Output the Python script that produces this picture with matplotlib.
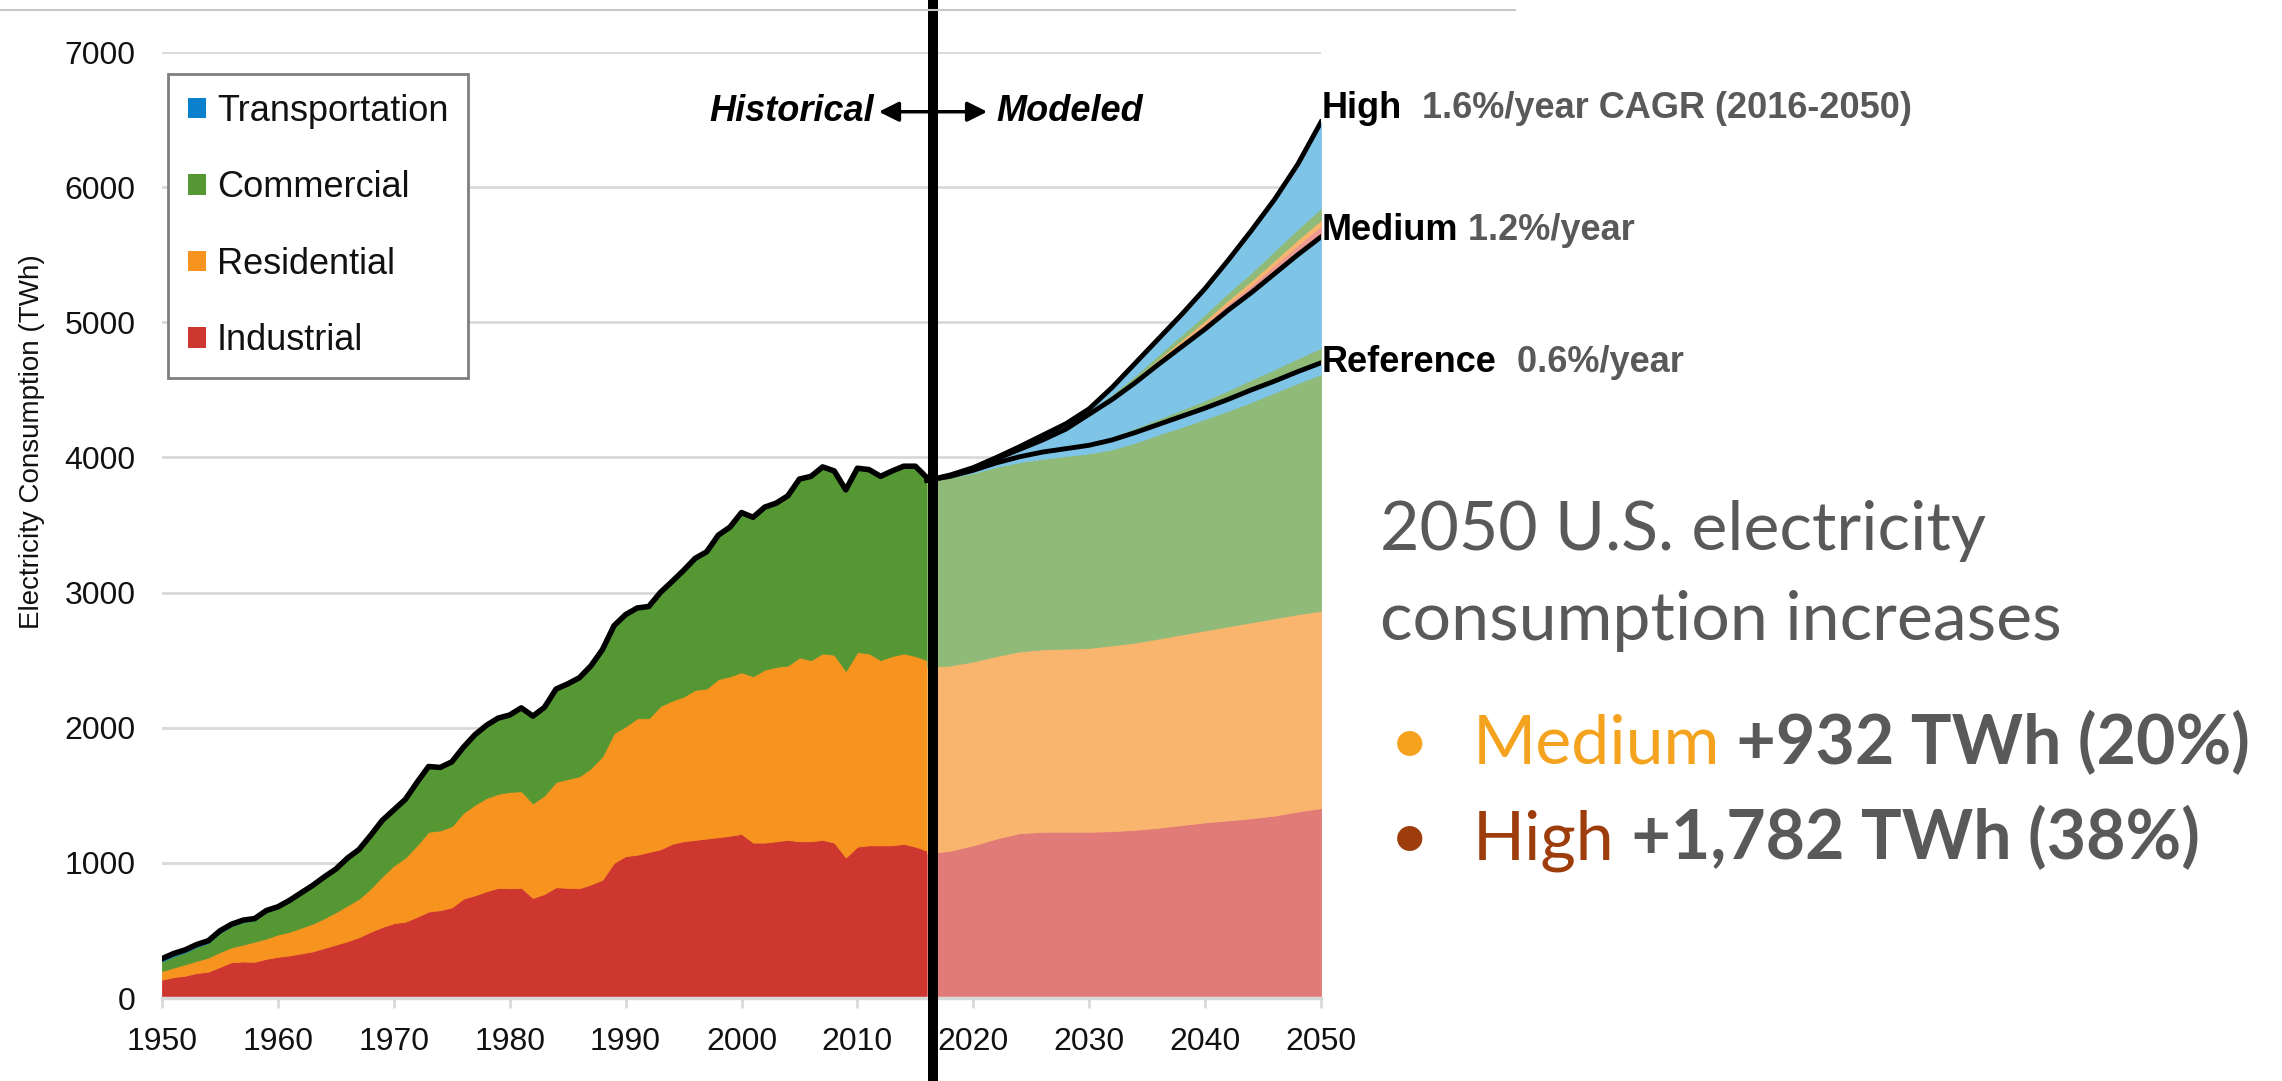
import matplotlib
matplotlib.use('Agg')
import matplotlib.pyplot as plt
import numpy as np
from matplotlib.patches import Patch

W, H = 2282, 1081

# --- historical data (TWh) ---
hist_years = list(range(1950, 2017))
hist_industrial = [135, 155, 165, 185, 195, 230, 265, 270, 268, 290,
                   305, 315, 330, 345, 370, 395, 420, 450, 490, 525,
                   553, 565, 600, 640, 650, 670, 735, 760, 790, 815,
                   812, 815, 740, 770, 820, 815, 812, 840, 875, 1000,
                   1050, 1060, 1080, 1100, 1140, 1160, 1170, 1180, 1190, 1200,
                   1215, 1150, 1150, 1160, 1170, 1160, 1160, 1170, 1150, 1040,
                   1120, 1130, 1130, 1130, 1140, 1120, 1090]
hist_residential = [65, 70, 85, 90, 105, 110, 110, 125, 150, 150,
                    165, 175, 190, 205, 220, 240, 265, 285, 320, 375,
                    427, 475, 530, 590, 590, 600, 635, 670, 690, 695,
                    713, 715, 700, 730, 780, 805, 828, 860, 915, 960,
                    960, 1010, 990, 1060, 1060, 1070, 1110, 1110, 1170, 1180,
                    1195, 1230, 1280, 1290, 1290, 1360, 1340, 1380, 1390, 1380,
                    1440, 1420, 1370, 1400, 1410, 1410, 1410]
hist_transportation = [20, 20, 19, 18, 17, 16, 15, 14, 13, 12,
                       11, 10, 10, 9, 9, 8, 8, 8, 7, 7,
                       6, 6, 6, 6, 5, 5, 5, 5, 5, 5,
                       5, 5, 5, 5, 5, 5, 5, 5, 5, 5,
                       5, 5, 5, 5, 5, 5, 5, 5, 5, 5,
                       5, 6, 6, 7, 7, 8, 8, 8, 8, 8,
                       8, 8, 7, 7, 8, 8, 8]
hist_total = [291, 329, 356, 396, 424, 497, 546, 576, 588, 647,
              675, 722, 778, 833, 896, 954, 1035, 1099, 1203, 1314,
              1392, 1470, 1595, 1713, 1706, 1747, 1855, 1948, 2018, 2071,
              2094, 2147, 2086, 2151, 2286, 2324, 2369, 2457, 2578, 2755,
              2837, 2886, 2897, 3001, 3081, 3164, 3253, 3302, 3425, 3484,
              3592, 3557, 3632, 3662, 3716, 3840, 3860, 3930, 3900, 3760,
              3920, 3910, 3860, 3900, 3935, 3935, 3850]

# --- modeled data (TWh) ---
mod_years = [2016, 2018, 2020, 2022, 2024, 2026, 2028, 2030, 2032,
             2034, 2036, 2038, 2040, 2042, 2044, 2046, 2048, 2050]
ref_industrial = [1070, 1090, 1130, 1180, 1220, 1230, 1230, 1230, 1235,
                  1245, 1260, 1280, 1300, 1315, 1330, 1350, 1380, 1405]
ref_residential = [1380, 1370, 1360, 1350, 1345, 1350, 1355, 1360, 1375,
                   1385, 1400, 1410, 1420, 1435, 1450, 1460, 1460, 1460]
ref_commercial = [1380, 1390, 1395, 1400, 1400, 1410, 1425, 1440, 1450,
                  1480, 1510, 1535, 1565, 1595, 1630, 1670, 1710, 1750]
ref_transportation = [0, 10, 20, 30, 40, 50, 55, 60, 70,
                      75, 75, 80, 80, 85, 90, 85, 85, 85]
medium_total = [3830, 3865, 3915, 3990, 4060, 4130, 4210, 4320, 4430,
                4555, 4690, 4820, 4950, 5090, 5220, 5360, 5500, 5632]
medium_res_add = [0, 0, 0, 0, 0, 1, 2, 3, 4, 5, 6, 7, 8, 9, 10, 12, 13, 15]
medium_com_add = [0, 0, 0, 2, 4, 8, 12, 16, 22, 28, 35, 42, 50, 58, 66, 75, 85, 95]
high_total = [3830, 3870, 3925, 4000, 4080, 4165, 4250, 4360, 4520,
              4700, 4880, 5060, 5250, 5460, 5680, 5910, 6170, 6482]
high_ind_add = [0, 0, 0, 0, 0, 0, 5, 10, 15, 20, 26, 32, 40, 48, 56, 64, 72, 80]
high_res_add = [0, 0, 0, 0, 0, 0, 3, 5, 8, 11, 15, 19, 23, 27, 31, 35, 40, 44]
high_com_add = [0, 0, 0, 0, 0, 0, 5, 10, 16, 22, 30, 38, 46, 54, 62, 70, 79, 88]

sectors = ['Transportation', 'Commercial', 'Residential', 'Industrial']
dark = {'Industrial': '#CD3730', 'Residential': '#F7931F',
        'Commercial': '#559733', 'Transportation': '#0B80CC'}
light = {'Industrial': '#E07B77', 'Residential': '#F9B56E',
         'Commercial': '#8FBA78', 'Transportation': '#7EC4E7'}
pink = '#EC9994'

plt.rcParams['font.family'] = ['Liberation Sans', 'DejaVu Sans']

fig = plt.figure(figsize=(W / 100, H / 100), dpi=100)
ax = fig.add_axes([162 / W, 1 - 998 / H, (1321 - 162) / W, (998 - 52) / H])

# historical stack
hi_ind = np.array(hist_industrial)
hi_res = np.array(hist_residential)
hi_tra = np.array(hist_transportation)
hi_tot = np.array(hist_total)
hi_com = hi_tot - hi_ind - hi_res - hi_tra
ax.stackplot(hist_years, hi_ind, hi_res, hi_com, hi_tra,
             colors=[dark['Industrial'], dark['Residential'], dark['Commercial'], dark['Transportation']],
             edgecolor='face', linewidth=0.6, zorder=1)
ax.plot(hist_years, hi_tot, color='black', lw=4, solid_joinstyle='round', zorder=3)

# modeled stack: reference, then medium and high additions
r_ind = np.array(ref_industrial)
r_res = np.array(ref_residential)
r_com = np.array(ref_commercial)
r_tra = np.array(ref_transportation)
ref_total = r_ind + r_res + r_com + r_tra
m_tot = np.array(medium_total)
m_res = np.array(medium_res_add)
m_com = np.array(medium_com_add)
m_tra = m_tot - ref_total - m_res - m_com
h_tot = np.array(high_total)
h_ind = np.array(high_ind_add)
h_res = np.array(high_res_add)
h_com = np.array(high_com_add)
h_tra = h_tot - m_tot - h_ind - h_res - h_com

ax.stackplot(mod_years, r_ind, r_res, r_com, r_tra, m_res, m_com, m_tra,
             h_ind, h_res, h_com, h_tra,
             colors=[light['Industrial'], light['Residential'], light['Commercial'], light['Transportation'],
                     light['Residential'], light['Commercial'], light['Transportation'],
                     pink, light['Residential'], light['Commercial'], light['Transportation']],
             edgecolor='face', linewidth=0.6, zorder=1)
for tot in (ref_total, m_tot, h_tot):
    ax.plot(mod_years, tot, color='black', lw=3.5, solid_joinstyle='round', zorder=3)

# divider between historical and modeled
ax.axvline(2016.5, ymin=-0.09, ymax=1.06, color='black', lw=7.2, clip_on=False, zorder=6)

ax.set_xlim(1950, 2050)
ax.set_ylim(0, 7000)
ax.set_xticks(range(1950, 2051, 10))
ax.set_yticks(range(0, 7001, 1000))
ax.grid(axis='y', color='#D9D9D9', lw=2)
ax.set_axisbelow(True)
for s in ['left', 'right', 'top']:
    ax.spines[s].set_visible(False)
ax.spines['bottom'].set_color('#D9D9D9')
ax.spines['bottom'].set_linewidth(2.5)
ax.tick_params(axis='x', length=7, width=2, color='#D9D9D9', labelsize=23, pad=14, labelcolor='#111111')
ax.tick_params(axis='y', length=0, labelsize=23, pad=19, labelcolor='#111111')
fig.text(32 / W, 1 - 442 / H, 'Electricity Consumption (TWh)', rotation=90,
         ha='center', va='center', fontsize=20, color='#111111')

# legend
handles = [Patch(facecolor=dark[s], edgecolor='none') for s in sectors]
leg = ax.legend(handles, sectors, loc='upper left', bbox_to_anchor=(168 / W, 1 - 74 / H),
                bbox_transform=fig.transFigure, borderaxespad=0, fontsize=26,
                handlelength=0.5, handleheight=0.5, handletextpad=0.3,
                labelspacing=1.15, borderpad=0.55, fancybox=False, framealpha=1,
                edgecolor='#7F7F7F')
leg.get_frame().set_linewidth(2)
for t in leg.get_texts():
    t.set_color('#111111')

# historical / modeled marker
ax.annotate('', xy=(2011.85, 6558), xytext=(2021.2, 6558),
            arrowprops=dict(arrowstyle='<|-|>', color='black', lw=2.5,
                            mutation_scale=30, shrinkA=0, shrinkB=0), zorder=7)
ax.text(2011.4, 6558, 'Historical', ha='right', va='center', fontsize=26,
        fontweight='bold', fontstyle='italic')
ax.text(2022.0, 6558, 'Modeled', ha='left', va='center', fontsize=26,
        fontweight='bold', fontstyle='italic')

renderer = fig.canvas.get_renderer()


def text_run(x, y, parts):
    # x, y in figure pixels (y from bottom); parts share one baseline
    for s, props in parts:
        t = fig.text(x / W, y / H, s, ha='left', va='baseline', **props)
        x = t.get_window_extent(renderer).x1


gray = '#595959'
scen = dict(fontweight='bold', fontsize=26)
text_run(1322, H - 118, [('High', dict(color='black', **scen)),
                         ('  1.6%/year CAGR (2016-2050)', dict(color=gray, **scen))])
text_run(1322, H - 240, [('Medium', dict(color='black', **scen)),
                         (' 1.2%/year', dict(color=gray, **scen))])
text_run(1322, H - 372, [('Reference', dict(color='black', **scen)),
                         ('  0.6%/year', dict(color=gray, **scen))])

# right-hand summary
big = dict(family=['Lato', 'DejaVu Sans'], fontsize=49)
text_run(1380, H - 550, [('2050 U.S. electricity', dict(color=gray, **big))])
text_run(1380, H - 640, [('consumption increases', dict(color=gray, **big))])
text_run(1390, H - 764, [('\u2022', dict(color='#F5A31F', **big))])
text_run(1473, H - 764, [('Medium', dict(color='#F5A31F', **big)),
                         (' +932 TWh (20%)', dict(color=gray, fontweight='bold', **big))])
text_run(1390, H - 859, [('\u2022', dict(color='#9C3D0B', **big))])
text_run(1473, H - 859, [('High', dict(color='#9C3D0B', **big)),
                         (' +1,782 TWh (38%)', dict(color=gray, fontweight='bold', **big))])

# slide rule line at the very top
fig.add_artist(plt.Line2D([0, 1515 / W], [1 - 10 / H] * 2, color='#C8C8C8', lw=1.5))

fig.savefig('out.png', dpi=100)
